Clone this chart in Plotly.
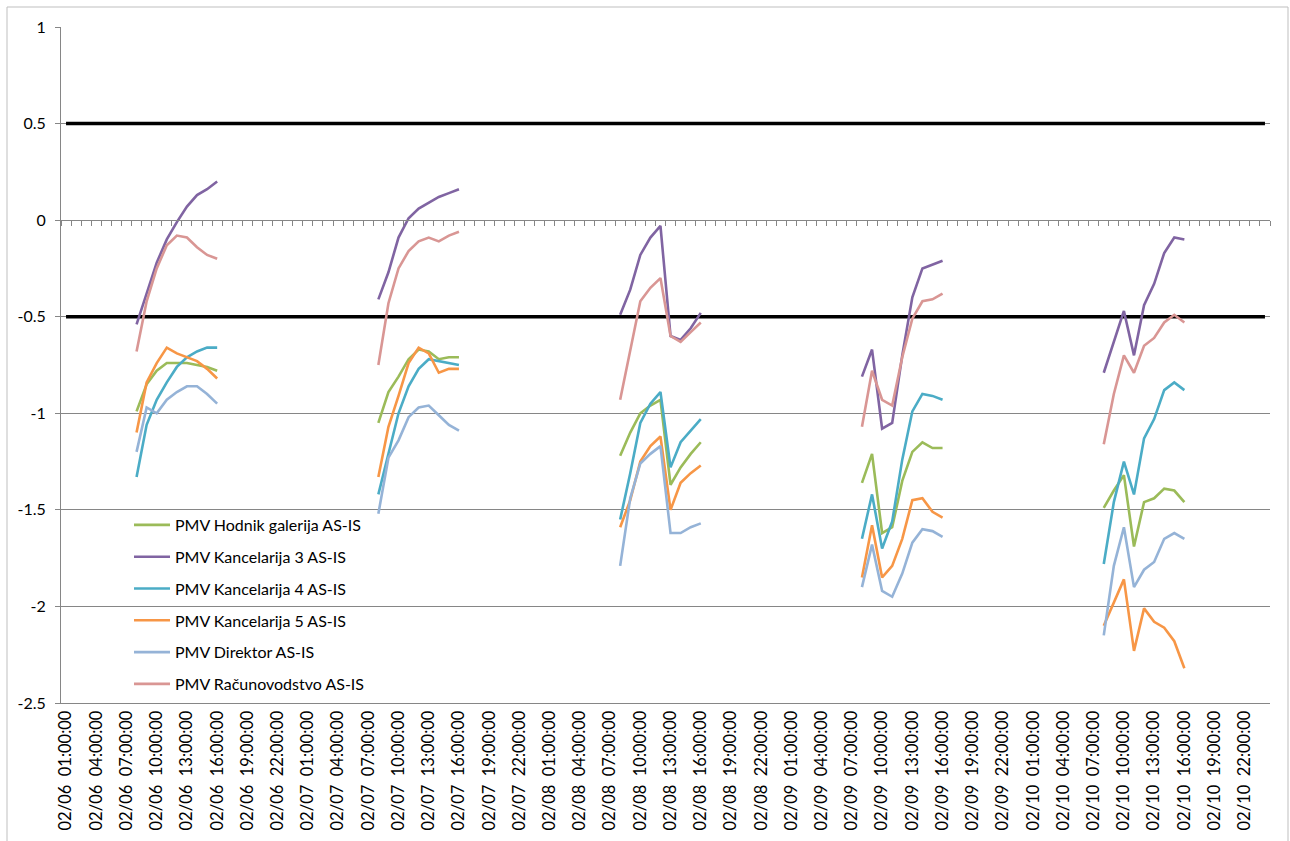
import plotly.graph_objects as go

# ---------------- data ----------------
days = ["02/06", "02/07", "02/08", "02/09", "02/10", "02/11"]
n_categories = 120          # hourly categories, 02/06 01:00 ... 02/11 00:00
reading_hours = [8, 9, 10, 11, 12, 13, 14, 15, 16]   # hours with readings each day
reading_days = [0, 1, 2, 3, 4]

hodnik = [
    [-0.99, -0.85, -0.78, -0.74, -0.74, -0.74, -0.75, -0.76, -0.78],
    [-1.05, -0.89, -0.81, -0.72, -0.67, -0.68, -0.72, -0.71, -0.71],
    [-1.22, -1.10, -1.00, -0.96, -0.93, -1.37, -1.28, -1.21, -1.15],
    [-1.36, -1.21, -1.62, -1.59, -1.35, -1.20, -1.15, -1.18, -1.18],
    [-1.49, -1.40, -1.32, -1.69, -1.46, -1.44, -1.39, -1.40, -1.46],
]
kanc3 = [
    [-0.54, -0.38, -0.22, -0.10, -0.01, 0.07, 0.13, 0.16, 0.20],
    [-0.41, -0.27, -0.09, 0.01, 0.06, 0.09, 0.12, 0.14, 0.16],
    [-0.49, -0.36, -0.18, -0.09, -0.03, -0.60, -0.62, -0.56, -0.48],
    [-0.81, -0.67, -1.08, -1.05, -0.70, -0.40, -0.25, -0.23, -0.21],
    [-0.79, -0.63, -0.47, -0.70, -0.44, -0.33, -0.17, -0.09, -0.10],
]
kanc4 = [
    [-1.33, -1.06, -0.93, -0.84, -0.76, -0.71, -0.68, -0.66, -0.66],
    [-1.42, -1.21, -1.00, -0.86, -0.77, -0.72, -0.73, -0.74, -0.75],
    [-1.55, -1.31, -1.05, -0.95, -0.89, -1.28, -1.15, -1.09, -1.03],
    [-1.65, -1.42, -1.70, -1.56, -1.24, -0.99, -0.90, -0.91, -0.93],
    [-1.78, -1.46, -1.25, -1.42, -1.13, -1.03, -0.88, -0.84, -0.88],
]
kanc5 = [
    [-1.10, -0.84, -0.74, -0.66, -0.69, -0.71, -0.73, -0.77, -0.82],
    [-1.33, -1.07, -0.91, -0.74, -0.66, -0.69, -0.79, -0.77, -0.77],
    [-1.59, -1.45, -1.25, -1.17, -1.12, -1.50, -1.36, -1.31, -1.27],
    [-1.85, -1.58, -1.85, -1.79, -1.65, -1.45, -1.44, -1.51, -1.54],
    [-2.10, -1.98, -1.86, -2.23, -2.01, -2.08, -2.11, -2.18, -2.32],
]
direktor = [
    [-1.20, -0.97, -1.00, -0.93, -0.89, -0.86, -0.86, -0.90, -0.95],
    [-1.52, -1.23, -1.14, -1.02, -0.97, -0.96, -1.01, -1.06, -1.09],
    [-1.79, -1.44, -1.26, -1.21, -1.17, -1.62, -1.62, -1.59, -1.57],
    [-1.90, -1.68, -1.92, -1.95, -1.83, -1.67, -1.60, -1.61, -1.64],
    [-2.15, -1.79, -1.59, -1.90, -1.81, -1.77, -1.65, -1.62, -1.65],
]
racunovodstvo = [
    [-0.68, -0.42, -0.25, -0.13, -0.08, -0.09, -0.14, -0.18, -0.20],
    [-0.75, -0.43, -0.25, -0.16, -0.11, -0.09, -0.11, -0.08, -0.06],
    [-0.93, -0.67, -0.42, -0.35, -0.30, -0.60, -0.63, -0.58, -0.53],
    [-1.07, -0.78, -0.93, -0.96, -0.71, -0.51, -0.42, -0.41, -0.38],
    [-1.16, -0.90, -0.70, -0.79, -0.65, -0.61, -0.53, -0.49, -0.53],
]
series_names = [
    "PMV Hodnik galerija AS-IS",
    "PMV Kancelarija 3 AS-IS",
    "PMV Kancelarija 4 AS-IS",
    "PMV Kancelarija 5 AS-IS",
    "PMV Direktor AS-IS",
    "PMV Računovodstvo AS-IS",
]
series_values = [hodnik, kanc3, kanc4, kanc5, direktor, racunovodstvo]
series_colors = ["#9BBB59", "#8064A2", "#4BACC6", "#F79646", "#95B3D7", "#D99694"]

comfort_limits = [0.5, -0.5]

y_tick_values = [1, 0.5, 0, -0.5, -1, -1.5, -2, -2.5]
y_tick_labels = ["1", "0.5", "0", "-0.5", "-1", "-1.5", "-2", "-2.5"]

# ---------------- categories ----------------
categories = []
for i in range(n_categories):
    h = i + 1
    categories.append(f"{days[h // 24]}\u00a0 {h % 24:02d}:00:00")
x_tick_vals = categories[0::3]


def full_series(day_values):
    y = [None] * n_categories
    for d, vals in zip(reading_days, day_values):
        for hr, v in zip(reading_hours, vals):
            y[d * 24 + hr - 1] = v
    return y


fig = go.Figure()

for lim in comfort_limits:
    fig.add_trace(go.Scatter(
        x=categories, y=[lim] * n_categories, mode="lines",
        line=dict(color="black", width=3.5), showlegend=False, hoverinfo="skip"))

for name, vals, col in zip(series_names, series_values, series_colors):
    fig.add_trace(go.Scatter(
        x=categories, y=full_series(vals), mode="lines", name=name,
        legendgroup=name, line=dict(color=col, width=2.6),
        connectgaps=False))

# invisible carrier trace for the axis crossing at y=0
fig.add_trace(go.Scatter(
    x=categories, y=[None] * n_categories, xaxis="x2", yaxis="y",
    mode="lines", showlegend=False, hoverinfo="skip"))

grid = "#868686"
font_family = "Lato, 'Open Sans', sans-serif"

fig.update_layout(
    width=1290, height=841,
    paper_bgcolor="white", plot_bgcolor="white",
    margin=dict(l=61, r=20, t=27, b=138),
    font=dict(family=font_family, size=16, color="black"),
    xaxis=dict(
        type="category", categoryorder="array", categoryarray=categories,
        range=[-0.5, n_categories - 0.5],
        tickmode="array", tickvals=x_tick_vals, ticktext=x_tick_vals,
        tickangle=-90, showgrid=False, zeroline=False,
        showline=True, linecolor=grid, linewidth=1, ticks="",
        tickfont=dict(size=16.5), automargin=False,
    ),
    xaxis2=dict(
        type="category", categoryorder="array", categoryarray=categories,
        overlaying="x", anchor="free", position=2.5 / 3.5,
        range=[-0.5, n_categories - 0.5],
        showline=True, linecolor=grid, linewidth=1,
        ticks="outside", ticklen=5, tickcolor=grid, tickson="boundaries",
        tickmode="linear", dtick=1, showticklabels=False, showgrid=False,
    ),
    yaxis=dict(
        range=[-2.5, 1], tickmode="array", tickvals=y_tick_values,
        ticktext=y_tick_labels, showgrid=True, gridcolor=grid, gridwidth=1,
        zeroline=False, showline=True, linecolor=grid, linewidth=1,
        ticks="outside", ticklen=5, tickcolor=grid,
        tickfont=dict(size=16), automargin=False, ticklabelstandoff=6,
    ),
    legend=dict(
        x=(129 - 61) / 1209, y=(703 - 508) / 676, xanchor="left", yanchor="top",
        bgcolor="rgba(0,0,0,0)", tracegroupgap=8, traceorder="grouped",
        font=dict(size=16), itemwidth=36,
    ),
    showlegend=True,
)

fig.add_shape(type="rect", xref="paper", yref="paper",
              x0=(7 - 61) / 1209, x1=(1288 - 61) / 1209,
              y0=-0.3, y1=(703 - 7) / 676,
              line=dict(color="#BFBFBF", width=1), fillcolor="rgba(0,0,0,0)")

fig.write_html("out.html", config={"displayModeBar": False},
               post_script="document.body.style.margin='0';document.body.style.overflow='hidden';")
